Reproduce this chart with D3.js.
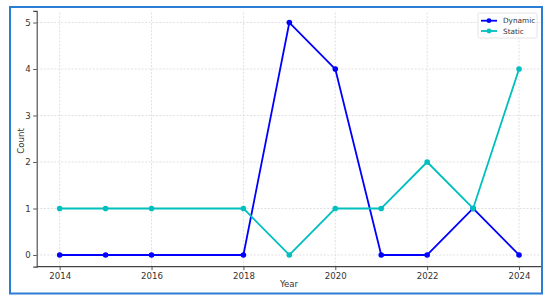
<!DOCTYPE html>
<html><head><meta charset="utf-8">
<script src="https://cdn.jsdelivr.net/npm/d3@7"></script>
<style>body{margin:0;background:#fff}svg{display:block}text{font-family:"DejaVu Sans",sans-serif}</style>
</head><body>
<script>
const years = [2014, 2015, 2016, 2018, 2019, 2020, 2021, 2022, 2023, 2024];
const dynamicCounts = [0, 0, 0, 0, 5, 4, 0, 0, 1, 0];
const staticCounts = [1, 1, 1, 1, 0, 1, 1, 2, 1, 4];
const xTicks = [2014, 2016, 2018, 2020, 2022, 2024];
const yTicks = [0, 1, 2, 3, 4, 5];
const seriesNames = ["Dynamic", "Static"];
const seriesColors = ["#0000ff", "#00bfbf"];

const W = 550, H = 302;
const svg = d3.select("body").append("svg").attr("width", W).attr("height", H);

const x = d3.scaleLinear().domain([2013.5, 2024.5]).range([36.7, 542]);
const y = d3.scaleLinear().domain([-0.25, 5.25]).range([266.6, 10.9]);

// grid
const g = svg.append("g");
g.selectAll(".vg").data(xTicks).join("line")
  .attr("x1", d => x(d)).attr("x2", d => x(d)).attr("y1", y(-0.25)).attr("y2", y(5.25))
  .attr("stroke", "#d9d9d9").attr("stroke-width", 0.8).attr("stroke-dasharray", "2,1.5");
g.selectAll(".hg").data(yTicks).join("line")
  .attr("x1", x(2013.5)).attr("x2", x(2024.5)).attr("y1", d => y(d)).attr("y2", d => y(d))
  .attr("stroke", "#d9d9d9").attr("stroke-width", 0.8).attr("stroke-dasharray", "2,1.5");

// axes
const xAxis = svg.append("g").attr("transform", `translate(0,${y(-0.25)})`)
  .call(d3.axisBottom(x).tickValues(xTicks).tickFormat(d3.format("d")).tickSize(3.5).tickPadding(2.5));
const yAxis = svg.append("g").attr("transform", `translate(${x(2013.5)},0)`)
  .call(d3.axisLeft(y).tickValues(yTicks).tickFormat(d3.format("d")).tickSize(3.5).tickPadding(2.5));
[xAxis, yAxis].forEach(a => {
  a.select(".domain").attr("stroke", "#444").attr("stroke-width", 1.1);
  a.selectAll(".tick line").attr("stroke", "#444").attr("stroke-width", 0.9);
  a.selectAll(".tick text").attr("fill", "#333").style("font-size", "8.6px").style("font-family", "DejaVu Sans");
});
// clip x domain to visible region
xAxis.select(".domain").attr("d", `M${x(2013.5)},0H${x(2024.5)}`);

// lines
const data = [dynamicCounts, staticCounts];
const line = d3.line().x((d, i) => x(years[i])).y(d => y(d));
data.forEach((vals, k) => {
  svg.append("path").datum(vals).attr("d", line).attr("fill", "none")
    .attr("stroke", seriesColors[k]).attr("stroke-width", 1.8).attr("stroke-linejoin", "round");
  svg.append("g").selectAll("circle").data(vals).join("circle")
    .attr("cx", (d, i) => x(years[i])).attr("cy", d => y(d)).attr("r", 2.8).attr("fill", seriesColors[k]);
});

// labels
svg.append("text").attr("x", 289).attr("y", 287).attr("text-anchor", "middle")
  .attr("fill", "#333").style("font-size", "8.6px").text("Year");
svg.append("text").attr("transform", "translate(24,141) rotate(-90)").attr("text-anchor", "middle")
  .attr("fill", "#333").style("font-size", "8.6px").text("Count");

// legend
const lg = svg.append("g");
lg.append("rect").attr("x", 478).attr("y", 13).attr("width", 59).attr("height", 25)
  .attr("fill", "#fff").attr("fill-opacity", 0.85).attr("stroke", "#ddd").attr("stroke-width", 0.8).attr("rx", 1.5);
seriesNames.forEach((n, k) => {
  const yy = 20.7 + k * 10.3;
  lg.append("line").attr("x1", 481).attr("x2", 497).attr("y1", yy).attr("y2", yy)
    .attr("stroke", seriesColors[k]).attr("stroke-width", 1.8);
  lg.append("circle").attr("cx", 489).attr("cy", yy).attr("r", 2.4).attr("fill", seriesColors[k]);
  lg.append("text").attr("x", 503).attr("y", yy + 2.6).attr("fill", "#333")
    .style("font-size", "7.3px").text(n);
});

// outer frame
svg.append("rect").attr("x", 10).attr("y", 7).attr("width", 532).attr("height", 286.5)
  .attr("fill", "none").attr("stroke", "#2a7fd4").attr("stroke-width", 2);
</script>
</body></html>
